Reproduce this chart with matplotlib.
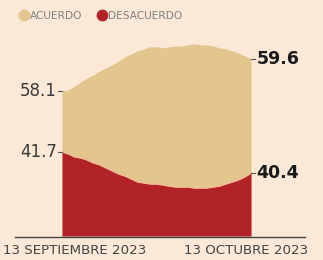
import matplotlib
matplotlib.use("Agg")
import matplotlib.pyplot as plt
import matplotlib.transforms as mtransforms
import matplotlib.dates as mdates
from matplotlib.lines import Line2D
import pandas as pd

# ---- data ----
dates = pd.date_range("2023-09-13", "2023-10-13", freq="D")
acuerdo = [58.10, 58.15, 58.33, 58.52, 58.71, 58.85, 59.04, 59.18, 59.33, 59.51,
           59.70, 59.84, 59.98, 60.07, 60.17, 60.17, 60.12, 60.17, 60.21, 60.21,
           60.26, 60.31, 60.26, 60.26, 60.21, 60.12, 60.07, 59.98, 59.88, 59.74,
           59.60]
desacuerdo = [41.70, 41.58, 41.39, 41.33, 41.20, 41.02, 40.90, 40.71, 40.52, 40.34,
              40.21, 40.03, 39.84, 39.78, 39.72, 39.72, 39.66, 39.59, 39.53, 39.53,
              39.53, 39.47, 39.47, 39.47, 39.53, 39.59, 39.72, 39.84, 39.97, 40.15,
              40.40]
series_names = ["ACUERDO", "DESACUERDO"]
start_labels = ["58.1", "41.7"]
end_labels = ["59.6", "40.4"]
x_labels = ["13 SEPTIEMBRE 2023", "13 OCTUBRE 2023"]

# ---- style ----
BG = "#FBE8D6"
TAN = "#E3C58E"
RED = "#B22328"
EDGE = "#F2B994"

W, H = 323, 260
fig = plt.figure(figsize=(W / 100, H / 100), dpi=100, facecolor=BG)

left_px, right_px, top_px, bot_px = 62, 251, 40, 236
ax1 = fig.add_axes([left_px / W, 1 - bot_px / H, (right_px - left_px) / W, (bot_px - top_px) / H])
ax1.set_facecolor("none")
ax2 = ax1.twinx()
ax2.patch.set_visible(False)

ax1.fill_between(dates, 51.29, acuerdo, color=TAN, lw=0)
ax1.set_ylim(51.29, 60.49)
ax2.fill_between(dates, 36.50, desacuerdo, color=RED, lw=0)
ax2.plot(dates, desacuerdo, color=EDGE, lw=1.0)
ax2.set_ylim(36.50, 48.63)

for a in (ax1, ax2):
    a.set_xlim(dates[0], dates[-1])
    a.axis("off")

# value labels with small tick marks
for a, v0, v1, l0, l1 in [(ax1, acuerdo[0], acuerdo[-1], start_labels[0], end_labels[0]),
                          (ax2, desacuerdo[0], desacuerdo[-1], start_labels[1], end_labels[1])]:
    tr = mtransforms.blended_transform_factory(a.transAxes, a.transData)
    a.plot([-0.022, 0], [v0, v0], transform=tr, color="#555555", lw=0.8, clip_on=False)
    a.plot([1.0, 1.022], [v1, v1], transform=tr, color="#555555", lw=0.8, clip_on=False)
    a.text(-0.026, v0, l0, transform=tr, ha="right", va="center", fontsize=12,
           color="#3a3a3a", family="DejaVu Sans")
    a.text(1.03, v1, l1, transform=tr, ha="left", va="center", fontsize=12.5,
           fontweight="bold", color="#1a1a1a", family="DejaVu Sans")

# x axis line
fig.add_artist(Line2D([15 / W, 305 / W], [1 - 236.5 / H, 1 - 236.5 / H],
                      transform=fig.transFigure, color="#444444", lw=1.0))
trx = mtransforms.blended_transform_factory(ax1.transData, fig.transFigure)
x0 = mdates.date2num(dates[0])
x1 = mdates.date2num(dates[-1])
ax1.annotate(x_labels[0], xy=(x0, 1 - 250 / H), xycoords=trx,
             xytext=(-59, 0), textcoords="offset pixels", ha="left", va="center",
             fontsize=9.6, color="#444444", family="DejaVu Sans", annotation_clip=False)
ax1.annotate(x_labels[1], xy=(x1, 1 - 250 / H), xycoords=trx,
             xytext=(57, 0), textcoords="offset pixels", ha="right", va="center",
             fontsize=9.6, color="#444444", family="DejaVu Sans", annotation_clip=False)

# legend
handles = [Line2D([], [], ls="none", marker="o", ms=7.5, color=TAN),
           Line2D([], [], ls="none", marker="o", ms=7.5, color=RED)]
fig.legend(handles, series_names, loc="center left", bbox_to_anchor=(14 / W, 1 - 16 / H),
           ncol=2, frameon=False, handletextpad=0.0, columnspacing=1.3,
           prop={"size": 7.6, "family": "DejaVu Sans"}, labelcolor="#808080",
           borderaxespad=0, handlelength=1.1)

fig.savefig("out.png", dpi=100, facecolor=BG)
